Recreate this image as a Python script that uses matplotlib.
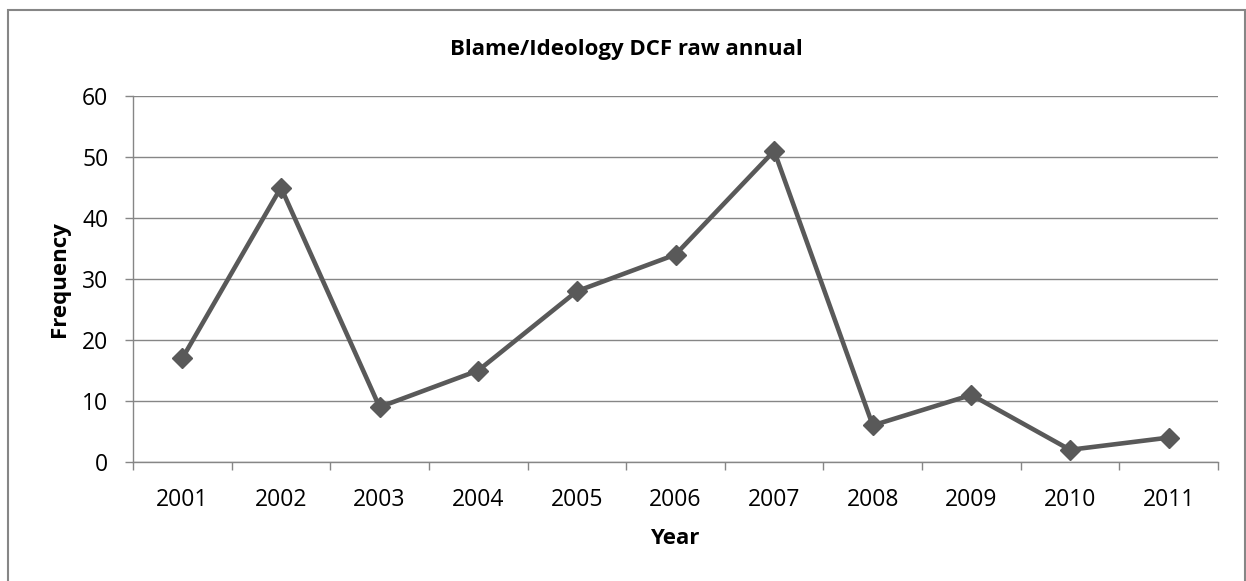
import matplotlib.pyplot as plt
from matplotlib.patches import Rectangle
import numpy as np

years = ['2001', '2002', '2003', '2004', '2005', '2006',
         '2007', '2008', '2009', '2010', '2011']
frequency = [17, 45, 9, 15, 28, 34, 51, 6, 11, 2, 4]
yticks = [0, 10, 20, 30, 40, 50, 60]

W, H = 1246, 581
grey = '#868686'
line_col = '#595959'
font = 'Open Sans'

fig = plt.figure(figsize=(W / 100, H / 100), dpi=100)
ax = fig.add_axes([133 / W, 1 - 462 / H, (1218 - 133) / W, (462 - 96) / H])

x = np.arange(len(years)) + 0.5
ax.plot(x, frequency, color=line_col, lw=3.3, marker='D', ms=10,
        mfc=line_col, mec=line_col, mew=1, zorder=3, clip_on=False)

ax.set_xlim(0, len(years))
ax.set_ylim(0, 60)
ax.set_yticks(yticks)
ax.set_yticklabels([str(v) for v in yticks], fontname=font, fontsize=16.5)
ax.set_xticks(x)
ax.set_xticklabels(years, fontname=font, fontsize=16.5)
ax.set_xticks(np.arange(len(years) + 1), minor=True)

ax.tick_params(axis='x', which='major', length=0, pad=18.5)
ax.tick_params(axis='x', which='minor', length=5.8, width=1.0, color=grey,
               direction='out')
ax.tick_params(axis='y', length=5.8, width=1.0, color=grey, pad=12)

ax.grid(axis='y', color=grey, lw=1.0)
ax.set_axisbelow(True)
for s in ['top', 'right']:
    ax.spines[s].set_visible(False)
for s in ['left', 'bottom']:
    ax.spines[s].set_color(grey)
    ax.spines[s].set_linewidth(1.0)

fig.text(626 / W, 1 - 50 / H, 'Blame/Ideology DCF raw annual', ha='center',
         va='center', fontname=font, fontweight='bold', fontsize=16)
fig.text(60 / W, 1 - 279 / H, 'Frequency', ha='center', va='center',
         rotation=90, fontname=font, fontweight='bold', fontsize=16)
fig.text(675 / W, 1 - 538 / H, 'Year', ha='center', va='center',
         fontname=font, fontweight='bold', fontsize=16)

# chart border (bottom edge runs off the canvas)
fig.patches.append(Rectangle((8 / W, -0.05), (1245 - 8) / W, 1.05 - 10 / H,
                             transform=fig.transFigure, fill=False,
                             edgecolor=grey, lw=1.5))

fig.savefig('out.png', dpi=100)
